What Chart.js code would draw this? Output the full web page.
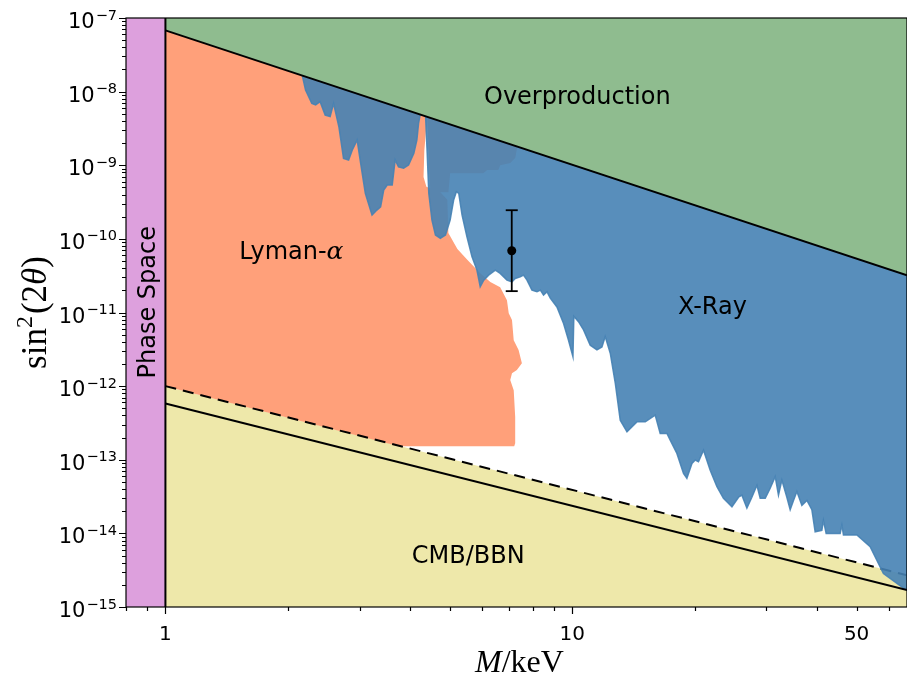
<!DOCTYPE html>
<html>
<head>
<meta charset="utf-8">
<script src="https://cdn.jsdelivr.net/npm/chart.js@4.4.0/dist/chart.umd.min.js"></script>
<style>
html,body{margin:0;padding:0;background:#fff;}
#c{display:block;}
</style>
</head>
<body>
<canvas id="c" width="907" height="680"></canvas>
<script>
// axis ranges
const xMin = 0.8, xMax = 66.5;
const yMin = 1e-15, yMax = 1e-7;

// overproduction bound
const overM = [1, 66.5];
const overS = [6.8e-8, 3.2e-11];

// CMB/BBN bounds (dashed and solid)
const bbnDashM = [1, 66.5];
const bbnDashS = [1e-12, 2.7e-15];
const bbnSolidM = [1, 66.5];
const bbnSolidS = [5.8e-13, 1.7e-15];

// Lyman-alpha: right edge, from the overproduction line down to the dashed line
const lymanM = [4.40, 4.33, 4.31, 4.38, 4.74, 4.93, 4.96, 5.22, 5.52, 5.94,
                6.29, 6.65, 6.91, 6.98, 7.11, 7.18, 7.38, 7.52, 7.31, 7.11,
                7.04, 7.18, 7.24, 7.24, 7.20, 3.75];
const lymanS = [4.55e-9, 1.61e-9, 6.9e-10, 5.1e-10, 4.3e-10, 3.4e-10, 1.2e-10, 7.3e-11, 5.2e-11, 3.4e-11,
                2.6e-11, 2.2e-11, 1.47e-11, 9.8e-12, 7.9e-12, 4.2e-12, 3.1e-12, 2.05e-12, 1.65e-12, 1.5e-12,
                1.21e-12, 8.8e-13, 3.8e-13, 1.68e-13, 1.53e-13, 1.53e-13];
// Lyman-alpha piece hidden under the X-ray band
const lyman2M = [4.40, 4.48, 4.96, 5.01, 6.04, 6.18, 6.58, 6.65, 7.04, 7.24, 7.33];
const lyman2S = [4.55e-9, 4.3e-10, 4.3e-10, 7.8e-10, 7.8e-10, 8.6e-10, 8.6e-10, 1.0e-9, 1.07e-9, 1.25e-9, 1.8e-9];

// X-ray: lower edge of the excluded band
const xrayM = [2.17, 2.21, 2.29, 2.34, 2.40, 2.47, 2.54, 2.59, 2.67, 2.74,
               2.82, 2.88, 2.96, 3.01, 3.10, 3.22, 3.31, 3.38, 3.44, 3.51,
               3.61, 3.67, 3.74, 3.85, 3.96, 4.08, 4.15, 4.19, 4.23, 4.36,
               4.40, 4.44, 4.52, 4.61, 4.74, 4.88, 5.01, 5.11, 5.19, 5.26,
               5.36, 5.51, 5.67, 5.83, 5.94, 6.06, 6.23, 6.47, 6.65, 6.91,
               7.11, 7.24, 7.45, 7.59, 7.74, 7.96, 8.19, 8.35, 8.50, 8.67,
               8.83, 9.17, 9.52, 9.79, 10.04, 10.09, 10.36, 10.66, 11.07, 11.50,
               11.83, 12.05, 12.40, 12.76, 13.12, 13.63, 14.42, 15.12, 15.99, 16.45,
               17.09, 17.41, 18.08, 18.77, 19.13, 19.69, 20.06, 20.43, 21.02, 21.83,
               22.68, 23.53, 24.69, 25.63, 26.12, 26.87, 27.64, 28.44, 28.97, 29.81,
               30.66, 31.54, 32.13, 32.75, 33.69, 34.33, 34.98, 35.66, 36.68, 37.74,
               38.81, 39.54, 41.07, 41.44, 42.08, 45.55, 46.00, 46.41, 50.08, 53.98,
               56.57, 58.19, 65.16, 66.5];
const xrayS = [1.65e-8, 1.05e-8, 6.9e-9, 6.6e-9, 7.3e-9, 4.8e-9, 4.6e-9, 6.9e-9, 3.3e-9, 1.24e-9,
               1.18e-9, 1.61e-9, 2.2e-9, 1.18e-9, 4.15e-10, 2.1e-10, 2.46e-10, 2.73e-10, 4.6e-10, 5.4e-10,
               5.4e-10, 1.18e-9, 9.5e-10, 9.1e-10, 1.01e-9, 1.45e-9, 2.2e-9, 3.7e-9, 4.9e-9, 4.65e-9,
               1.45e-9, 4.15e-10, 1.8e-10, 1.13e-10, 1.02e-10, 1.13e-10, 1.8e-10, 3.37e-10, 4.37e-10, 4.15e-10,
               2.1e-10, 1.07e-10, 5.7e-11, 3.77e-11, 2.23e-11, 2.75e-11, 3.22e-11, 3.77e-11, 3.4e-11, 2.75e-11,
               2.61e-11, 2.9e-11, 3.05e-11, 3.22e-11, 2.75e-11, 2.01e-11, 1.91e-11, 2.01e-11, 1.72e-11, 1.91e-11,
               1.57e-11, 1.19e-11, 7.1e-12, 4.2e-12, 2.5e-12, 8.9e-12, 7.5e-12, 5.8e-12, 3.6e-12, 3.1e-12,
               3.4e-12, 4.7e-12, 2.8e-12, 1.09e-12, 3.45e-13, 2.39e-13, 3.27e-13, 3.27e-13, 4.04e-13, 2.28e-13,
               2.28e-13, 1.85e-13, 1.22e-13, 6.5e-14, 5.6e-14, 8.9e-14, 9.9e-14, 9.4e-14, 1.35e-13, 7.2e-14,
               4.3e-14, 3.0e-14, 2.3e-14, 3.1e-14, 3.3e-14, 2.2e-14, 3.1e-14, 4.5e-14, 3.0e-14, 3.0e-14,
               4.1e-14, 5.9e-14, 3.3e-14, 5.3e-14, 3.1e-14, 2.1e-14, 2.8e-14, 3.7e-14, 2.4e-14, 2.8e-14,
               2.1e-14, 1.05e-14, 1.1e-14, 1.5e-14, 1.0e-14, 1.0e-14, 1.3e-14, 9.5e-15, 9.5e-15, 6.6e-15,
               3.9e-15, 2.85e-15, 1.8e-15, 1.7e-15];

// 7.1 keV line with error bar
const lineM = 7.1, lineS = 6.9e-11, lineLo = 1.95e-11, lineHi = 2.45e-10;

// ticks
const xTickValues = [1, 10, 50];
const xTickLabels = ['1', '10', '50'];
const xMinorTicks = [0.8, 0.9, 2, 3, 4, 5, 6, 7, 8, 9, 20, 30, 40, 60];
const yTickValues = [1e-15, 1e-14, 1e-13, 1e-12, 1e-11, 1e-10, 1e-9, 1e-8, 1e-7];
const yTickBase = '10';
const yTickExps = ['\u221215', '\u221214', '\u221213', '\u221212', '\u221211', '\u221210', '\u22129', '\u22128', '\u22127'];

// region labels (baseline position in data units)
const regionLabels = [
  {text: 'Overproduction', m: 10.29, s: 6.7e-9},
  {text: 'X-Ray', m: 22.1, s: 9.5e-12},
  {text: 'CMB/BBN', m: 5.55, s: 4.0e-15}
];

const pts = (xs, ys) => xs.map((m, i) => ({x: m, y: ys[i]}));

// polygons
const greenPoly = pts([overM[0], overM[1], xMax, 1], [overS[0], overS[1], yMax, yMax]);
const purplePoly = pts([xMin, 1, 1, xMin], [yMin, yMin, yMax, yMax]);
const yellowPoly = pts([bbnDashM[0], bbnDashM[1], xMax, 1], [bbnDashS[0], bbnDashS[1], yMin, yMin]);
const lymanPoly = pts([1].concat(lymanM, [1]), [overS[0]].concat(lymanS, [bbnDashS[0]]));
const lyman2Poly = pts(lyman2M, lyman2S);
const xrayPoly = pts(xrayM.concat([overM[1]]), xrayS.concat([overS[1]]));

function area(data, color, order, edge){
  return {
    data, showLine: true, fill: 'shape', order,
    backgroundColor: color,
    borderColor: edge || 'transparent', borderWidth: edge ? 1.5 : 0,
    pointRadius: 0
  };
}
function curve(data, order, dash){
  return {
    data, showLine: true, fill: false, order,
    borderColor: '#000', borderWidth: 2, borderDash: dash || [],
    pointRadius: 0
  };
}

const blue = 'rgba(70,130,180,0.9)';
const salmon = 'rgb(255,160,122)';

const datasets = [
  area(yellowPoly, 'rgb(238,232,170)', 20),
  area(lymanPoly, salmon, 19),
  area(lyman2Poly, salmon, 18),
  curve(pts(bbnDashM, bbnDashS), 17, [11, 7]),
  area(xrayPoly, blue, 16, blue),
  area(greenPoly, 'rgb(143,188,143)', 15),
  area(purplePoly, 'rgb(221,160,221)', 14),
  curve(pts(bbnSolidM, bbnSolidS), 10),
  curve(pts(overM, overS), 9),
  curve(pts([1, 1], [yMin, yMax]), 8),
  {
    data: pts([lineM, lineM], [lineLo, lineHi]), showLine: true, fill: false, order: 2,
    borderColor: '#000', borderWidth: 1.8,
    pointStyle: 'line', pointRadius: 6, pointBorderWidth: 1.8, pointBorderColor: '#000'
  },
  {
    data: pts([lineM], [lineS]), showLine: false, order: 1,
    pointRadius: 4.5, pointBackgroundColor: '#000', pointBorderWidth: 0
  }
];

function drawRuns(ctx, runs, cx, cy, rot, align){
  ctx.save();
  ctx.translate(cx, cy);
  ctx.rotate(rot || 0);
  ctx.textAlign = 'left';
  ctx.textBaseline = 'alphabetic';
  ctx.fillStyle = '#000';
  let w = 0;
  runs.forEach(r => { ctx.font = r.font; w += ctx.measureText(r.text).width + (r.gap || 0); });
  let px = align === 'right' ? -w : -w / 2;
  runs.forEach(r => {
    ctx.font = r.font;
    px += r.gap || 0;
    ctx.fillText(r.text, px, r.dy || 0);
    px += ctx.measureText(r.text).width;
  });
  ctx.restore();
}

const decor = {
  id: 'decor',
  afterDatasetsDraw(chart){
    const {ctx, scales: {x, y}} = chart;
    const sans = "24px 'DejaVu Sans'";
    regionLabels.forEach(l => {
      drawRuns(ctx, [{text: l.text, font: sans}], x.getPixelForValue(l.m), y.getPixelForValue(l.s));
    });
    drawRuns(ctx, [{text: 'Lyman-', font: sans}, {text: 'α', font: "italic 25px 'DejaVu Serif'"}],
      x.getPixelForValue(2.04), y.getPixelForValue(5.26e-11));
    drawRuns(ctx, [{text: 'Phase Space', font: sans}],
      x.getPixelForValue(0.945), y.getPixelForValue(1.38e-11), -Math.PI / 2);
  },
  afterDraw(chart){
    const {ctx, chartArea: a, scales: {x, y}} = chart;
    ctx.save();
    ctx.strokeStyle = '#000';
    ctx.lineWidth = 1.2;
    ctx.strokeRect(a.left, a.top, a.right - a.left, a.bottom - a.top);
    ctx.beginPath();
    xTickValues.concat(xMinorTicks).forEach(v => {
      const p = Math.round(x.getPixelForValue(v)) + 0.5;
      const len = (v === 1 || v === 10) ? 7 : 4;
      ctx.moveTo(p, a.bottom); ctx.lineTo(p, a.bottom + len);
    });
    yTickValues.forEach((v, i) => {
      let p = Math.round(y.getPixelForValue(v)) + 0.5;
      ctx.moveTo(a.left, p); ctx.lineTo(a.left - 7, p);
      if (i < yTickValues.length - 1) {
        for (let k = 2; k <= 9; k++) {
          p = Math.round(y.getPixelForValue(v * k)) + 0.5;
          ctx.moveTo(a.left, p); ctx.lineTo(a.left - 4, p);
        }
      }
    });
    ctx.stroke();
    ctx.restore();
    // y tick labels: 10 with raised exponent
    yTickValues.forEach((v, i) => {
      drawRuns(ctx, [
        {text: yTickBase, font: "21px 'DejaVu Sans'"},
        {text: yTickExps[i], font: "14.5px 'DejaVu Sans'", dy: -8.5, gap: 1}
      ], a.left - 9, y.getPixelForValue(v) + 10, 0, 'right');
    });
    // axis titles
    const serif = "32px 'Liberation Serif'";
    drawRuns(ctx, [{text: 'M', font: "italic " + serif}, {text: '/keV', font: serif}],
      (a.left + a.right) / 2 + 3, 672);
    const big = "35px 'Liberation Serif'";
    drawRuns(ctx, [
      {text: 'sin', font: big},
      {text: '2', font: "24px 'Liberation Serif'", dy: -14},
      {text: '(2', font: big, gap: 2},
      {text: 'θ', font: "italic " + big},
      {text: ')', font: big}
    ], 46, (a.top + a.bottom) / 2, -Math.PI / 2);
  }
};

Chart.defaults.font.family = "'DejaVu Sans'";
Chart.defaults.color = '#000';

new Chart(document.getElementById('c'), {
  type: 'scatter',
  data: {datasets},
  options: {
    responsive: false,
    animation: false,
    devicePixelRatio: 1,
    layout: {autoPadding: false, padding: {top: 18, right: 0, bottom: 0, left: 0}},
    plugins: {legend: {display: false}, tooltip: {enabled: false}},
    elements: {line: {tension: 0}},
    scales: {
      x: {
        type: 'logarithmic', min: xMin, max: xMax,
        afterBuildTicks: s => { s.ticks = xTickValues.map(v => ({value: v})); },
        afterFit: s => { s.height = 73; },
        grid: {display: false, drawTicks: false},
        border: {display: false},
        ticks: {
          autoSkip: false, maxRotation: 0, minRotation: 0, padding: 16,
          font: {size: 20},
          callback: (v, i) => xTickLabels[i]
        }
      },
      y: {
        type: 'logarithmic', min: yMin, max: yMax,
        afterBuildTicks: s => { s.ticks = yTickValues.map(v => ({value: v})); },
        afterFit: s => { s.width = 126; },
        grid: {display: false, drawTicks: false},
        border: {display: false},
        ticks: {display: false}
      }
    }
  },
  plugins: [decor]
});
</script>
</body>
</html>
